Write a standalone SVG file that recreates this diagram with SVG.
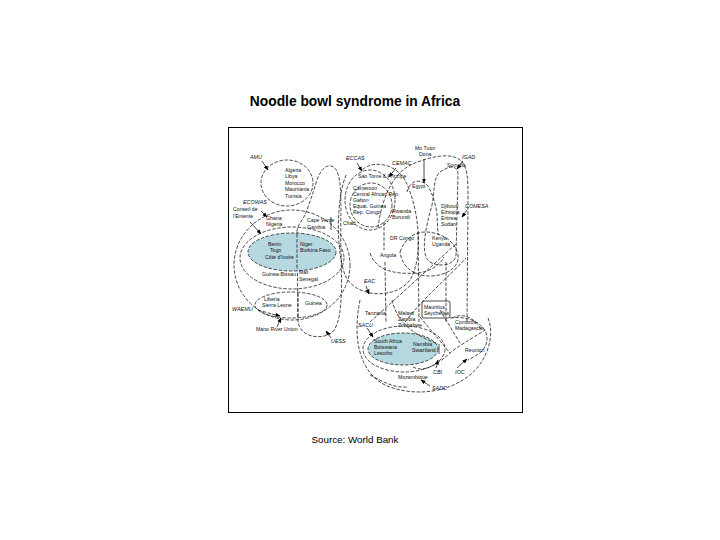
<svg xmlns="http://www.w3.org/2000/svg" width="720" height="540" viewBox="0 0 720 540">
<defs>
<marker id="ah" viewBox="0 0 10 10" refX="9" refY="5" markerWidth="5" markerHeight="5" orient="auto" markerUnits="userSpaceOnUse">
<path d="M0,1 L10,5 L0,9 Z" fill="#000"/>
</marker>
</defs>
<style>
.t{font-family:"Liberation Sans",Arial,sans-serif;font-size:5.2px;fill:#111}
.a{font-family:"Liberation Sans",Arial,sans-serif;font-size:5.4px;fill:#111;font-style:italic}
.d{fill:none;stroke:#111;stroke-width:0.75;stroke-dasharray:3.5 1.6}
.s{fill:none;stroke:#111;stroke-width:0.75}
.ar{fill:none;stroke:#111;stroke-width:0.75;marker-end:url(#ah)}
.blue{fill:#b6d8e0;stroke:#111;stroke-width:0.75;stroke-dasharray:3.5 1.6}
</style>
<rect width="720" height="540" fill="#fff"/>
<text x="355" y="106" text-anchor="middle" font-family="Liberation Sans,Arial,sans-serif" font-size="13.8" font-weight="bold">Noodle bowl syndrome in Africa</text>
<rect x="228.5" y="127.5" width="294" height="285" fill="#fff" stroke="#000" stroke-width="1"/>
<text x="355" y="443" text-anchor="middle" font-family="Liberation Sans,Arial,sans-serif" font-size="9.8">Source: World Bank</text>

<g id="connectors">
<ellipse class="d" cx="287" cy="183" rx="26" ry="23"/>
<path class="d" d="M297,232 L298,322 C300,336 318,340 330,334 C343,326 342,290 341,250 C340,215 343,185 337,171 C330,160 321,168 317,180 C313,193 309,205 305,215 C301,222 297,226 297,232"/>
<ellipse class="d" cx="292" cy="265" rx="58" ry="55"/>
<ellipse class="d" cx="292" cy="258" rx="52" ry="31"/>
<ellipse class="blue" cx="292" cy="252" rx="44" ry="19"/>
<path class="d" d="M297,234 L297,270"/>
<ellipse class="d" cx="291" cy="305" rx="36" ry="13"/>
<path class="d" d="M298,293 L298,318"/>
<path class="s" d="M331,217 L331,230"/>
<ellipse class="d" cx="370" cy="200" rx="25" ry="30"/>
<ellipse class="d" cx="371" cy="205" rx="21" ry="22"/>
<path class="d" d="M346,175 C336,200 336,250 345,275 C355,298 395,300 410,280 C425,255 418,205 405,180 C395,163 372,160 362,170"/>
<path class="d" d="M378,228 C382,195 395,170 415,163 C430,157 450,152 460,160 C468,166 468,180 468,200 L467,322"/>
<path class="d" d="M440,172 C450,165 458,165 458,175 L456,255 C455,265 440,268 430,262 C420,255 425,230 432,205 C435,190 433,178 440,172"/>
<path class="d" d="M407,192 C410,180 420,178 428,186 C433,195 436,205 437,215 L438,235"/>
<path class="d" d="M400,252 C405,238 415,232 425,232 C440,232 455,240 458,255 C460,268 445,276 430,276 C415,276 402,268 400,252"/>
<path class="d" d="M370,322 L456,244"/>
<path class="d" d="M405,322 C425,296 450,276 466,258"/>
<path class="d" d="M384,222 L384,250 M385,262 L386,322"/>
<path class="d" d="M418,232 L419,322"/>
<path class="d" d="M446,262 L446,322"/>
<path class="d" d="M370,253 C375,268 390,275 417,273 C430,272 440,265 444,257"/>
<path class="d" d="M360,300 C352,340 360,372 385,385 C410,396 445,395 470,375 C488,360 495,335 488,318"/>
<ellipse class="d" cx="404" cy="349" rx="41" ry="23"/>
<ellipse class="blue" cx="403" cy="349" rx="35" ry="16"/>
<path class="s" d="M439,344 L439,354"/>
<path class="d" d="M450,318 C470,315 488,325 487,340 C486,352 475,356 468,360"/>
<rect class="s" x="422" y="301" width="28" height="17" rx="2"/>
<path class="d" d="M452,318 C462,312 476,318 481,330"/>
<path class="d" d="M392,300 C396,318 408,333 438,344"/>
<path class="d" d="M413,367 C420,371 432,370 450,353 C458,346 470,340 485,330"/>
<path class="d" d="M370,375 C385,383 395,388 407,387"/>
<path class="d" d="M420,317 L450,353"/>
<path class="d" d="M440,310 L460,343"/>
<path class="ar" d="M262,161 L268,170"/>
<path class="ar" d="M357,163 L362,171"/>
<path class="ar" d="M396,168 L389,177"/>
<path class="s" d="M424,159 L424,183" marker-end="url(#ah)"/>
<path class="ar" d="M463,161 L457,169"/>
<path class="ar" d="M467,210 L462,217"/>
<path class="ar" d="M261,211 L267,217"/>
<path class="ar" d="M250,222 L261,234"/>
<path class="d" d="M258,310 L272,314" />
<path class="ar" d="M272,314 L280,316"/>
<path class="ar" d="M277,327 L281,318"/>
<path class="ar" d="M331,338 L326,331"/>
<path class="ar" d="M366,286 L369,294"/>
<path class="ar" d="M367,328 L373,337"/>
<path class="ar" d="M436,368 L438,360"/>
<path class="ar" d="M457,368 L467,359"/>
<path class="ar" d="M430,386 L421,380"/>
</g>

<g id="amu"><text class="a" x="250" y="159">AMU</text>
<text class="t" x="285" y="171.5">Algeria</text><text class="t" x="285" y="178">Libya</text><text class="t" x="285" y="184.5">Morocco</text><text class="t" x="285" y="191">Mauritania</text><text class="t" x="285" y="197.5">Tunisia</text></g>
<g id="eccas"><text class="a" x="346" y="160">ECCAS</text><text class="t" x="358" y="178">Sao Tome &amp; Principe</text>
<text class="t" x="353" y="190">Cameroon</text><text class="t" x="353" y="196">Central African Rep.</text><text class="t" x="353" y="202">Gabon</text><text class="t" x="353" y="208">Equat. Guinea</text><text class="t" x="353" y="214">Rep. Congo</text></g>
<g id="cemac"><text class="a" x="392" y="165">CEMAC</text></g>
<g id="motutor"><text class="t" x="415" y="150">Mo Tutor</text><text class="t" x="419" y="156">Dona</text></g>
<g id="igad"><text class="t" x="447" y="167">Somalia</text><text class="a" x="462" y="159">IGAD</text></g>
<g id="egypt"><text class="t" x="412" y="188">Egypt</text></g>
<g id="rwanda"><text class="t" x="392" y="213">Rwanda</text><text class="t" x="392" y="219">Burundi</text></g>
<g id="chad"><text class="t" x="343" y="225">Chad</text></g>
<g id="comesa"><text class="a" x="465" y="208">COMESA</text>
<text class="t" x="441" y="208">Djibouti</text><text class="t" x="441" y="214">Ethiopia</text><text class="t" x="441" y="220">Eritrea</text><text class="t" x="441" y="226">Sudan</text></g>
<g id="kenya"><text class="t" x="432" y="240">Kenya</text><text class="t" x="432" y="246">Uganda</text></g>
<g id="drc"><text class="t" x="390" y="240">DR Congo</text><text class="t" x="380" y="257">Angola</text></g>
<g id="entente"><text class="a" x="243" y="204">ECOWAS</text><text class="t" x="233" y="211">Conseil de</text><text class="t" x="233" y="218">l'Entente</text></g>
<g id="ecowas"><text class="t" x="266" y="220">Ghana</text><text class="t" x="266" y="226">Nigeria</text>
<text class="t" x="307" y="222">Cape Verde</text><text class="t" x="307" y="229">Gambia</text></g>
<g id="uemoa"><text class="t" x="268" y="246">Benin</text><text class="t" x="270" y="252">Togo</text><text class="t" x="265" y="259">Côte d'Ivoire</text>
<text class="t" x="300" y="246">Niger</text><text class="t" x="300" y="252">Burkina Faso</text>
<text class="t" x="262" y="276">Guinea-Bissau</text><text class="t" x="299" y="274">Mali</text><text class="t" x="299" y="281">Senegal</text></g>
<g id="mano"><text class="t" x="264" y="301">Liberia</text><text class="t" x="262" y="307">Sierra Leone</text><text class="t" x="305" y="305">Guinea</text>
<text class="a" x="232" y="311">WAEMU</text><text class="t" x="256" y="331">Mano River Union</text><text class="a" x="331" y="343">UESS</text></g>
<g id="eac"><text class="a" x="364" y="283">EAC</text><text class="t" x="365" y="315">Tanzania</text></g>
<g id="malawi"><text class="t" x="398" y="315">Malawi</text><text class="t" x="398" y="321">Zambia</text><text class="t" x="398" y="327">Zimbabwe</text></g>
<g id="ioc"><text class="t" x="424" y="309">Mauritius</text><text class="t" x="424" y="315">Seychelles</text>
<text class="t" x="455" y="324">Comoros</text><text class="t" x="455" y="330">Madagascar</text><text class="t" x="465" y="352">Reunion</text><text class="a" x="455" y="374">IOC</text></g>
<g id="sacu"><text class="a" x="358" y="327">SACU</text>
<text class="t" x="374" y="343">South Africa</text><text class="t" x="374" y="349">Botswana</text><text class="t" x="374" y="355">Lesotho</text>
<text class="t" x="413" y="346">Namibia</text><text class="t" x="412" y="352">Swaziland</text></g>
<g id="sadc"><text class="a" x="433" y="374">CBI</text><text class="t" x="398" y="379">Mozambique</text><text class="a" x="432" y="390">SADC</text></g>
</svg>
